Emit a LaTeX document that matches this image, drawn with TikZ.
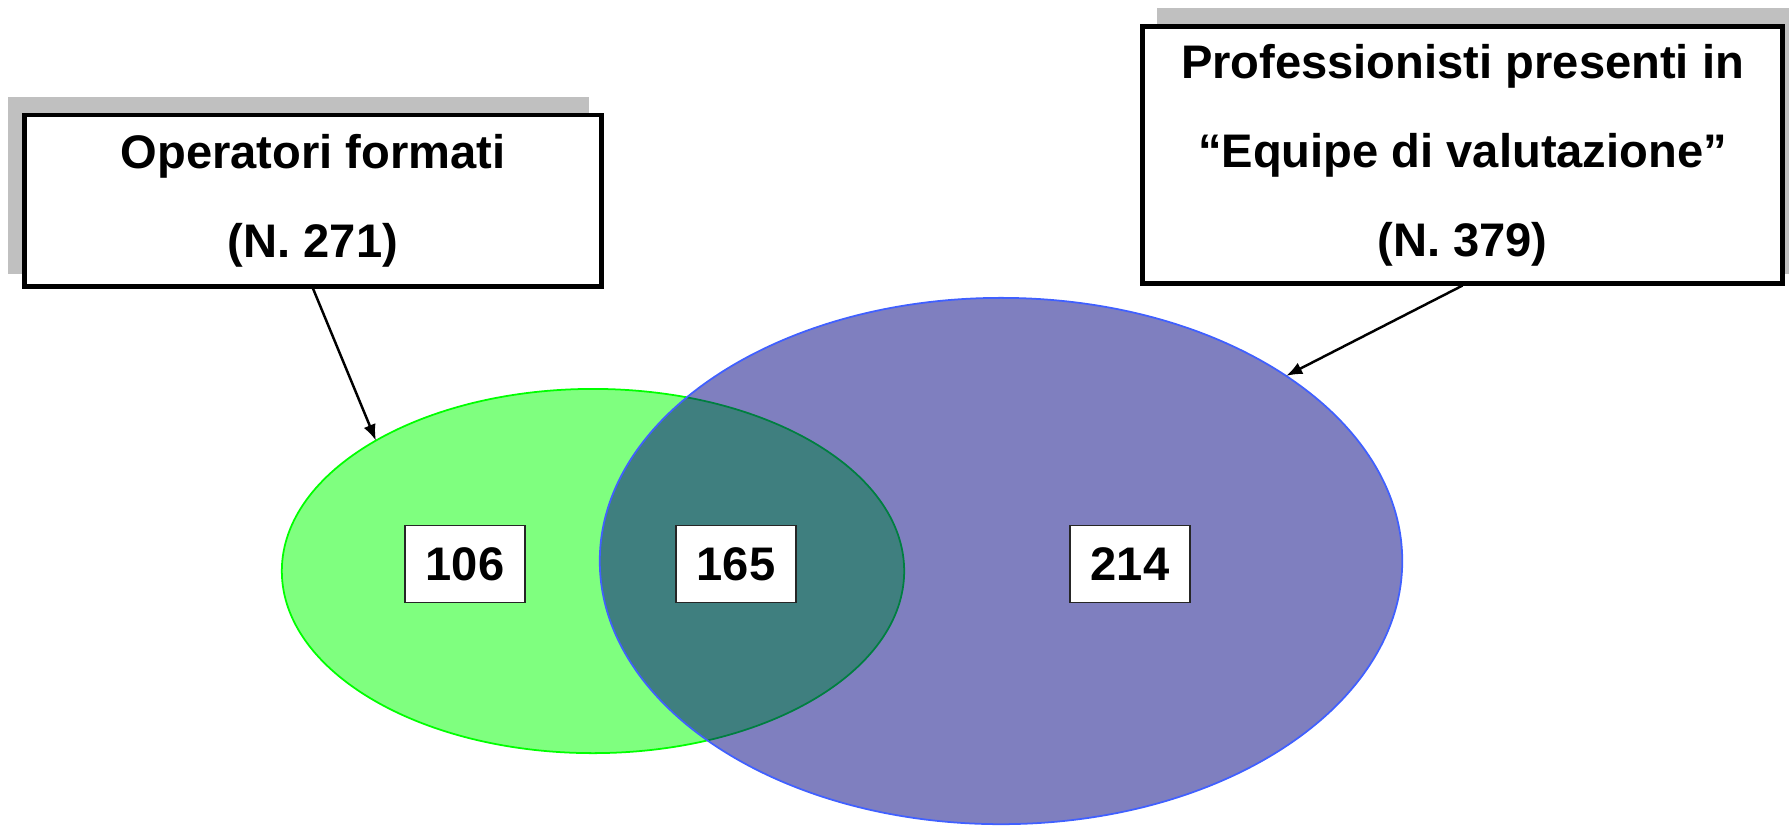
\documentclass[tikz,border=0pt]{standalone}
\usepackage{fontspec}
\setmainfont{Liberation Sans}
\usepackage{xcolor}
\usepackage{tikz}
\usetikzlibrary{calc}
\usetikzlibrary{shapes.geometric}
\usetikzlibrary{arrows.meta}
\definecolor{setgreen}{RGB}{0,255,0}
\definecolor{setnavy}{RGB}{0,0,128}
\definecolor{setedge}{RGB}{64,96,255}
\definecolor{shadowgray}{RGB}{192,192,192}
\tikzset{
	titlebox/.style={draw=black,line width=1.4pt,fill=white,align=center,inner sep=0pt,
		font=\bfseries\fontsize{13.4}{25.3}\selectfont},
	countbox/.style={draw=black!85,line width=0.4pt,fill=white,inner sep=0pt,
		minimum width=1.2cm,minimum height=0.77cm,font=\bfseries\fontsize{13.4}{16}\selectfont},
	setshape/.style={ellipse,inner sep=0pt,outer sep=0pt,fill opacity=0.5},
	pointer/.style={line width=0.7pt,-{Latex[length=4.6pt,width=3.6pt]}}
}

\begin{document}
\begin{tikzpicture}[x=0.01cm,y=-0.01cm]
	\useasboundingbox (0,0) rectangle (1789,826);
	\fill[shadowgray] (8,97) rectangle (589,274);
	\fill[shadowgray] (1157,8) rectangle (1789,274);
	\node[titlebox,minimum width=5.76cm,minimum height=1.71cm] (opbox) at (313,200.5) {Operatori formati\\(N. 271)};
	\node[titlebox,minimum width=6.39cm,minimum height=2.56cm] (profbox) at (1462.5,155) {Professionisti presenti in\\“Equipe di valutazione”\\(N. 379)};
	\node[setshape,draw=setgreen,fill=setgreen,line width=0.5pt,minimum width=6.22cm,minimum height=3.64cm] (oper) at (593,571) {};
	\node[setshape,draw=setedge,fill=setnavy,line width=0.5pt,minimum width=8.02cm,minimum height=5.26cm] (prof) at (1001,561) {};
	\node[countbox] (onlyop) at (465,564) {106};
	\node[countbox] (both) at (736,564) {165};
	\node[countbox] (onlyprof) at (1130,564) {214};
	\draw[pointer] (opbox.south) -- (oper.149);
	\draw[pointer] (profbox.south) -- (prof.33);
\end{tikzpicture}
\end{document}
